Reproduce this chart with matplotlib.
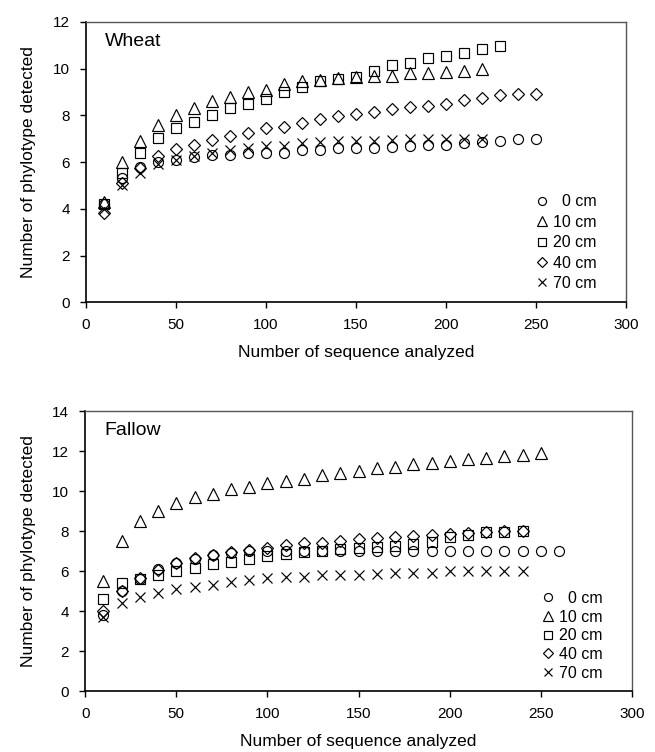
import matplotlib
matplotlib.use("Agg")
import matplotlib.pyplot as plt

plt.rcParams['font.family'] = ['Liberation Sans', 'DejaVu Sans']
plt.rcParams['font.size'] = 11

depths = ["  0 cm", "10 cm", "20 cm", "40 cm", "70 cm"]
markers = ["o", "^", "s", "D", "x"]
msizes = [7.2, 8.2, 7.4, 6.4, 7]

# Wheat
wheat_x = list(range(10, 260, 10))
wheat_0 = [4.2, 5.3, 5.8, 6.0, 6.1, 6.2, 6.3, 6.3, 6.4, 6.4, 6.4, 6.5, 6.5, 6.6, 6.6,
           6.6, 6.65, 6.7, 6.75, 6.75, 6.8, 6.85, 6.9, 7.0, 7.0]
wheat_10 = [4.3, 6.0, 6.9, 7.6, 8.0, 8.3, 8.6, 8.8, 9.0, 9.1, 9.35, 9.45, 9.5, 9.6, 9.65,
            9.7, 9.7, 9.8, 9.8, 9.85, 9.9, 10.0]
wheat_20 = [4.2, 5.55, 6.4, 7.05, 7.45, 7.7, 8.0, 8.3, 8.5, 8.7, 9.0, 9.2, 9.45, 9.55, 9.65,
            9.9, 10.15, 10.25, 10.45, 10.55, 10.65, 10.85, 10.95]
wheat_40 = [3.8, 5.1, 5.75, 6.25, 6.55, 6.75, 6.95, 7.1, 7.25, 7.45, 7.5, 7.65, 7.85, 7.95, 8.05,
            8.15, 8.25, 8.35, 8.4, 8.5, 8.65, 8.75, 8.85, 8.9, 8.9]
wheat_70 = [4.0, 5.0, 5.55, 5.9, 6.1, 6.25, 6.4, 6.5, 6.6, 6.7, 6.7, 6.8, 6.85, 6.9, 6.9,
            6.9, 6.95, 7.0, 7.0, 7.0, 7.0, 7.0]

# Fallow
fallow_x = list(range(10, 270, 10))
fallow_0 = [3.8, 5.0, 5.6, 6.1, 6.4, 6.6, 6.8, 6.9, 7.0, 7.0, 7.0, 7.0, 7.0, 7.0, 7.0,
            7.0, 7.0, 7.0, 7.0, 7.0, 7.0, 7.0, 7.0, 7.0, 7.0, 7.0]
fallow_10 = [5.5, 7.5, 8.5, 9.0, 9.4, 9.7, 9.85, 10.1, 10.2, 10.4, 10.5, 10.6, 10.8, 10.9, 11.0,
             11.15, 11.2, 11.35, 11.4, 11.5, 11.6, 11.65, 11.75, 11.8, 11.9]
fallow_20 = [4.6, 5.4, 5.6, 5.8, 6.0, 6.15, 6.35, 6.45, 6.6, 6.75, 6.85, 6.95, 7.0, 7.1, 7.15,
             7.2, 7.25, 7.35, 7.45, 7.7, 7.8, 7.95, 7.95, 8.0]
fallow_40 = [4.0, 5.0, 5.65, 6.05, 6.4, 6.65, 6.8, 6.95, 7.05, 7.15, 7.3, 7.4, 7.4, 7.5, 7.6,
             7.65, 7.7, 7.75, 7.8, 7.85, 7.9, 7.95, 8.0, 8.0]
fallow_70 = [3.7, 4.4, 4.7, 4.9, 5.1, 5.2, 5.3, 5.45, 5.55, 5.65, 5.7, 5.7, 5.8, 5.8, 5.8,
             5.85, 5.9, 5.9, 5.9, 6.0, 6.0, 6.0, 6.0, 6.0]


def draw(ax, series, xs, ylim, yticks, name, leg_anchor, lspace):
    for ys, lab, m, s in zip(series, depths, markers, msizes):
        ax.plot(xs[:len(ys)], ys, linestyle='none', marker=m, ms=s, mfc='none',
                mec='black', mew=0.85, label=lab)
    ax.set_xlim(0, 300)
    ax.set_ylim(*ylim)
    ax.set_xticks(range(0, 301, 50))
    ax.set_yticks(yticks)
    ax.tick_params(direction='out', length=4.5, width=1, labelsize=11, pad=7)
    for sp in ['left', 'bottom']:
        ax.spines[sp].set_linewidth(1.2)
        ax.spines[sp].set_color('black')
    for sp in ['top', 'right']:
        ax.spines[sp].set_linewidth(1.0)
        ax.spines[sp].set_color('#555555')
    ax.set_xlabel('Number of sequence analyzed', fontsize=12.5, labelpad=9)
    ax.set_ylabel('Number of phylotype detected', fontsize=12.5, labelpad=12)
    ax.text(0.035, 0.93, name, transform=ax.transAxes, fontsize=14, va='center')
    ax.legend(loc='lower right', bbox_to_anchor=leg_anchor, frameon=False,
              handletextpad=0.2, handlelength=1.0, labelspacing=lspace,
              fontsize=11.5, markerscale=0.8, borderaxespad=0, borderpad=0)


fig = plt.figure(figsize=(6.55, 7.52), dpi=100)
ax1 = fig.add_axes([0.131, 0.598, 0.825, 0.373])
ax2 = fig.add_axes([0.130, 0.081, 0.835, 0.372])

draw(ax1, [wheat_0, wheat_10, wheat_20, wheat_40, wheat_70], wheat_x, (0, 12),
     range(0, 13, 2), 'Wheat', (0.945, 0.04), 0.34)
draw(ax2, [fallow_0, fallow_10, fallow_20, fallow_40, fallow_70], fallow_x, (0, 14),
     range(0, 15, 2), 'Fallow', (0.946, 0.037), 0.23)

fig.savefig('out.png', dpi=100)
